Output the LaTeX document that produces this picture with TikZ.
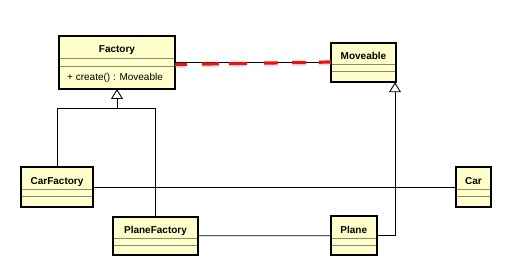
\documentclass[tikz,border=0pt]{standalone}
\usepackage{fontspec}
\setmainfont{Liberation Sans}
\usetikzlibrary{arrows.meta,calc}
\definecolor{classfill}{HTML}{FFFFCC}
\definecolor{sepline}{HTML}{8A8A6C}
\definecolor{assocred}{HTML}{EE1111}
\tikzset{
  cls/.style={draw=black, line width=2pt, fill=classfill, inner sep=0pt, outer sep=0pt},
  clsname/.style={font=\fontsize{10}{12}\selectfont\bfseries, inner sep=0pt, anchor=base},
  member/.style={font=\fontsize{10}{12}\selectfont, inner sep=0pt, anchor=base west},
  sep/.style={draw=sepline, line width=0.9pt},
  link/.style={draw=black, line width=0.9pt},
  inherit/.style={link, -{Triangle[open, width=12pt, length=10pt, line width=0.9pt]}},
  redpattern/.style={dash pattern=on 12pt off 15pt on 17pt off 10pt on 18pt off 17pt on 14pt off 14pt on 14pt off 13pt on 14pt off 40pt},
  reddash/.style={draw=assocred, line width=3.2pt, redpattern},
  reddashshade/.style={draw=black!35, opacity=0.3, line width=3pt, redpattern},
}
% class box: name, centre, width, height, title text
\newcommand{\umlclass}[5]{%
  \node[cls, minimum width=#3pt, minimum height=#4pt] (#1) at (#2) {};
  \node[clsname] (#1-name) at ($(#1.north)+(0,17)$) {#5};
}
% two compartment separators, offsets from the top edge
\newcommand{\compartments}[3]{%
  \draw[sep] ($(#1.north west)+(1,#2)$) -- ($(#1.north east)+(-1,#2)$);
  \draw[sep] ($(#1.north west)+(1,#3)$) -- ($(#1.north east)+(-1,#3)$);
}
\begin{document}
\begin{tikzpicture}[x=1pt, y=-1pt]
\useasboundingbox[fill=white] (0,0) rectangle (528,267);

% classes
\umlclass{factory}{117,62.5}{116}{53}{Factory}
\compartments{factory}{22}{30}
\node[member] (create) at (67,81) {+ create() : Moveable};

\umlclass{moveable}{363.5,62.5}{65}{39.5}{Moveable}
\compartments{moveable}{21.5}{29}

\umlclass{carfactory}{57,187}{72}{39.5}{CarFactory}
\compartments{carfactory}{22}{29.5}

\umlclass{planefactory}{155.5,235.8}{84.5}{38.5}{PlaneFactory}
\compartments{planefactory}{22}{29}

\umlclass{car}{473.5,187}{35.6}{39.5}{Car}
\compartments{car}{22}{29.5}

\umlclass{plane}{353.8,235.7}{46.3}{39.3}{Plane}
\compartments{plane}{22}{29.5}

% generalisation: both factories realise Factory
\coordinate (join) at (117,108);
\draw[link] (carfactory.north) |- (join);
\draw[link] (planefactory.north) |- (join);
\draw[inherit] (join) -- (factory.south);

% generalisation: Plane is a Moveable
\coordinate (mvtip) at ([xshift=-1pt]moveable.south east);
\draw[inherit] (plane.east) -| (mvtip);

% associations
\draw[link] (factory.east) -- (moveable.west);
\draw[link] (carfactory.east) -- (car.west);
\draw[link] (planefactory.east) -- (plane.west);

% highlighted dependency Factory -> Moveable
\draw[reddashshade] ($(factory.east)+(0,4)$) -- ($(moveable.west)+(0,1.5)$);
\draw[reddash] ($(factory.east)+(0,2)$) -- ($(moveable.west)+(0,-0.5)$);
\end{tikzpicture}
\end{document}
